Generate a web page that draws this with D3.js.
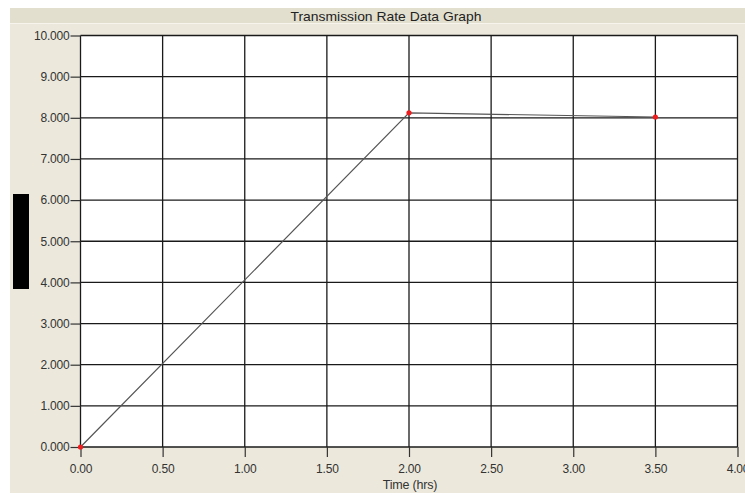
<!DOCTYPE html>
<html>
<head>
<meta charset="utf-8">
<script src="https://cdn.jsdelivr.net/npm/d3@7"></script>
<style>
  html, body { margin: 0; padding: 0; background: #ffffff; }
  svg { display: block; font-family: "Liberation Sans", Arial, sans-serif; }
</style>
</head>
<body>
<svg id="chart" width="745" height="495"></svg>
<script>
// Transmission rate samples (time in hours, rate)
const times = [0.0, 2.0, 3.5];
const rates = [0.0, 8.12, 8.02];
const xTicks = [0, 0.5, 1.0, 1.5, 2.0, 2.5, 3.0, 3.5, 4.0];
const yTicks = [0, 1, 2, 3, 4, 5, 6, 7, 8, 9, 10];
const title = "Transmission Rate Data Graph";
const xLabel = "Time (hrs)";

const svg = d3.select("#chart");

// panel and title strip
svg.append("rect").attr("x", 10).attr("y", 8).attr("width", 735).attr("height", 485).attr("fill", "#ECE9DC");
svg.append("rect").attr("x", 10).attr("y", 8).attr("width", 735).attr("height", 15).attr("fill", "#E2DFCF");
svg.append("line").attr("x1", 10).attr("x2", 745).attr("y1", 23.5).attr("y2", 23.5).attr("stroke", "#F6F4EC");

svg.append("text").attr("x", 386).attr("y", 21).attr("text-anchor", "middle")
  .attr("font-size", 13).attr("fill", "#222")
  .attr("textLength", 191).attr("lengthAdjust", "spacingAndGlyphs").text(title);

// side marker bar
svg.append("rect").attr("x", 13).attr("y", 194).attr("width", 16).attr("height", 95).attr("fill", "#000");

const x = d3.scaleLinear().domain([0, 4]).range([80.5, 737.5]);
const y = d3.scaleLinear().domain([0, 10]).range([447, 35.5]);

// plot background
svg.append("rect").attr("x", x(0)).attr("y", y(10)).attr("width", x(4) - x(0)).attr("height", y(0) - y(10)).attr("fill", "#fff");

// grid
svg.append("g").selectAll("line").data(xTicks).join("line")
  .attr("x1", d => x(d)).attr("x2", d => x(d)).attr("y1", y(10)).attr("y2", y(0))
  .attr("stroke", "#1a1a1a").attr("stroke-width", 1.3);
svg.append("g").selectAll("line").data(yTicks).join("line")
  .attr("x1", x(0)).attr("x2", x(4)).attr("y1", d => y(d)).attr("y2", d => y(d))
  .attr("stroke", "#1a1a1a").attr("stroke-width", 1.3);

// axes
const xAxis = svg.append("g").attr("transform", `translate(0,${y(0)})`)
  .call(d3.axisBottom(x).tickValues(xTicks).tickFormat(d3.format(".2f")).tickSize(10).tickPadding(7));
const yAxis = svg.append("g").attr("transform", `translate(${x(0)},0)`)
  .call(d3.axisLeft(y).tickValues(yTicks).tickFormat(d3.format(".3f")).tickSize(10).tickPadding(1));
[xAxis, yAxis].forEach(a => {
  a.select(".domain").remove();
  a.selectAll(".tick line").attr("stroke", "#333").attr("stroke-width", 1.2);
  a.selectAll("text").attr("font-size", 12).attr("fill", "#333")
    .attr("font-family", "'Liberation Sans', Arial, sans-serif").attr("letter-spacing", -0.2);
});

svg.append("text").attr("x", 410).attr("y", 489).attr("text-anchor", "middle")
  .attr("font-size", 12.5).attr("fill", "#333").attr("letter-spacing", -0.2).text(xLabel);

// data line and points
const pts = times.map((t, i) => [t, rates[i]]);
svg.append("path").datum(pts)
  .attr("d", d3.line().x(d => x(d[0])).y(d => y(d[1])))
  .attr("fill", "none").attr("stroke", "#555").attr("stroke-width", 1.2);
svg.append("g").selectAll("circle").data(pts).join("circle")
  .attr("cx", d => x(d[0])).attr("cy", d => y(d[1])).attr("r", 2.6).attr("fill", "#ee1c1c");
</script>
</body>
</html>
